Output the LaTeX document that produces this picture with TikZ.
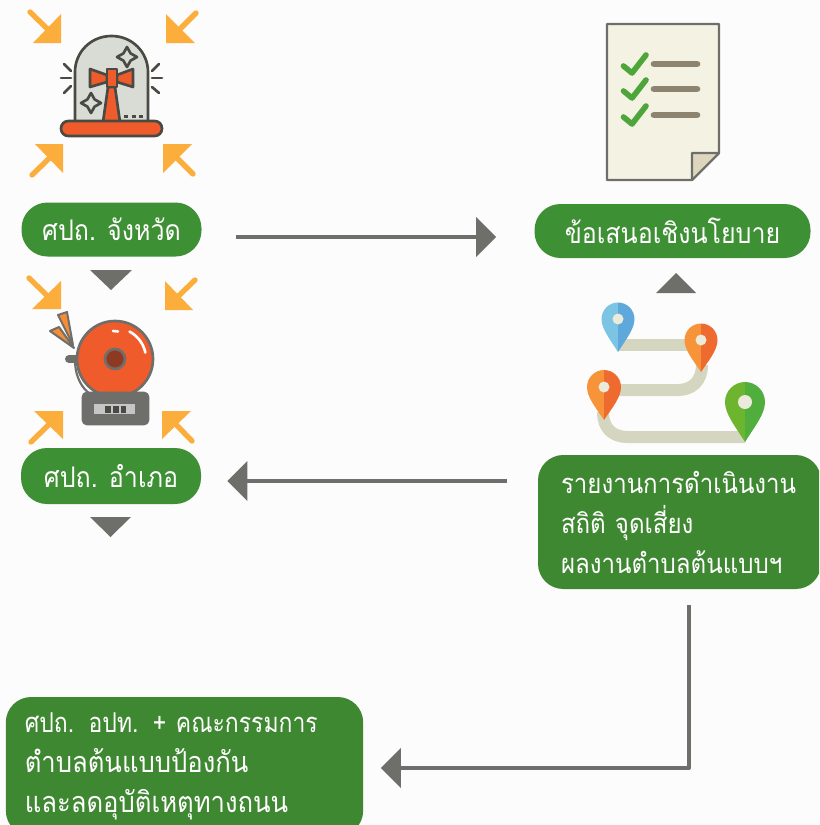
\documentclass[tikz,border=0pt]{standalone}
\usepackage{fontspec}
\usetikzlibrary{arrows.meta,calc}
\newfontfamily\thaifont[Script=Thai,FakeStretch=0.88]{Loma}
\newfontfamily\thaitight[Script=Thai,FakeStretch=0.89]{Loma}
\newfontfamily\thaicond[Script=Thai,FakeStretch=0.84]{Loma}
\definecolor{pagebg}{HTML}{FDFCFD}
\definecolor{boxgreen}{HTML}{3E9034}
\definecolor{boxdeep}{HTML}{3F8832}
\definecolor{conn}{HTML}{6E6F6B}
\definecolor{amber}{HTML}{FBAE3C}
\definecolor{ink}{HTML}{4A4A44}
\definecolor{redorange}{HTML}{EF5B2B}
\definecolor{dome}{HTML}{D8DCD5}
\definecolor{bellgray}{HTML}{6E6E6B}
\definecolor{paper}{HTML}{F3F2E3}
\definecolor{foldc}{HTML}{DDD6BD}
\definecolor{checkg}{HTML}{4EA63A}
\definecolor{barc}{HTML}{8D8470}
\definecolor{road}{HTML}{D5D6BF}
\definecolor{pinhole}{HTML}{ECEADB}
\definecolor{pinblueL}{HTML}{7CC4E4}
\definecolor{pinblueR}{HTML}{5FA8DC}
\definecolor{pinorangeL}{HTML}{F7943A}
\definecolor{pinorangeR}{HTML}{EF6A2F}
\definecolor{pingreenL}{HTML}{6DB52E}
\definecolor{pingreenR}{HTML}{50AE3C}
\definecolor{bellhub}{HTML}{8E3A22}
\tikzset{
  pill/.style={fill=boxgreen,text=white,rounded corners=19.5pt,inner sep=0pt,
    font=\thaifont\fontsize{21.3}{30}\selectfont},
  multi/.style={pill,fill=boxdeep,align=left,rounded corners=19pt,
    font=\thaifont\fontsize{20.5}{30}\selectfont},
  flow/.style={draw=conn,line width=3pt,-{Triangle[length=15pt,width=29pt]}},
  smalltri/.style={fill=conn},
  orangeline/.style={draw=amber,line width=4pt,line cap=round},
  icon/.style={draw=ink,line width=2pt,line join=round},
  bellicon/.style={draw=bellgray,line width=2pt,line join=round},
  ray/.style={draw=ink,line width=2pt,line cap=round},
  roadline/.style={draw=road,line width=9pt},
  checkmark/.style={draw=checkg,line width=4.2pt,line cap=round,line join=round},
  listbar/.style={draw=barc,line width=5pt,line cap=round}
}
% orange corner arrow: triangle a,b,c (b the right angle), tail end t
\newcommand{\cornerarrow}[4]{%
  \draw[orangeline] (#4) -- ($(#1)!.5!(#3)$);
  \fill[amber] (#1) -- (#2) -- (#3) -- cycle;}
% four-point star
\newcommand{\sparkle}[3]{%
  \draw[icon,fill=dome] (#1,#2-#3) -- (#1+.36*#3,#2-.36*#3) -- (#1+#3,#2) -- (#1+.36*#3,#2+.36*#3)
    -- (#1,#2+#3) -- (#1-.36*#3,#2+.36*#3) -- (#1-#3,#2) -- (#1-.36*#3,#2-.36*#3) -- cycle;}
% map pin: cx, cy, r, tip y, left colour, right colour, hole r
\newcommand{\mappin}[7]{%
  \fill[#5] (#1,#4) .. controls (#1-.5*#3,{#2+1.2*#3}) and (#1-#3,{#2+.6*#3}) .. (#1-#3,#2)
    .. controls (#1-#3,{#2-.55*#3}) and (#1-.55*#3,#2-#3) .. (#1,#2-#3) -- cycle;
  \fill[#6] (#1,#4) .. controls (#1+.5*#3,{#2+1.2*#3}) and (#1+#3,{#2+.6*#3}) .. (#1+#3,#2)
    .. controls (#1+#3,{#2-.55*#3}) and (#1+.55*#3,#2-#3) .. (#1,#2-#3) -- cycle;
  \fill[pinhole] (#1,#2) circle[radius=#7*.75pt];}
\begin{document}
\begin{tikzpicture}[x=0.75pt,y=-0.75pt]
\useasboundingbox (0,0) rectangle (819,825);
\clip (0,0) rectangle (819,825);
\fill[pagebg] (0,0) rectangle (819,825);

% ---------- siren icon
\cornerarrow{61,14}{61,43}{33,43}{30,12}
\cornerarrow{166,14}{166,43}{195,43}{196,13}
\cornerarrow{35,144}{63,144}{63,173}{32,175}
\cornerarrow{192,144}{163,144}{163,173}{193,174}
\draw[icon,fill=dome] (75,123) -- (75,72) .. controls (75,52) and (91,36) .. (111.5,36)
  .. controls (132,36) and (148,52) .. (148,72) -- (148,123);
\sparkle{127}{57}{10}
\sparkle{91}{103}{10}
\draw[icon,fill=redorange] (103,122) -- (108,87) -- (115,87) -- (120,122) -- cycle;
\draw[icon,fill=redorange] (90,69) -- (107,75) -- (107,82) -- (90,87) -- cycle;
\draw[icon,fill=redorange] (133,69) -- (117,75) -- (117,82) -- (133,87) -- cycle;
\draw[icon,fill=redorange] (107,69) rectangle (117,87);
\foreach \dotx in {126,134,141}{\fill[ink] (\dotx-2,114.5) rectangle (\dotx+2,117.5);}
\draw[icon,fill=redorange,rounded corners=5.5pt] (61,121) rectangle (162,136);
\draw[ray] (64,64) -- (71,71);
\draw[ray] (61,78) -- (71,78);
\draw[ray] (64,93) -- (71,86);
\draw[ray] (159,64) -- (152,71);
\draw[ray] (162,78) -- (152,78);
\draw[ray] (159,93) -- (152,87);

% ---------- bell icon
\cornerarrow{61,281}{61,309}{32,309}{29,278}
\cornerarrow{165,281}{165,310}{193,310}{195,280}
\cornerarrow{34,411}{63,411}{63,439}{31,442}
\cornerarrow{191,411}{162,411}{162,439}{192,441}
\draw[draw=bellgray,line width=1.6pt] (75,363) .. controls (76,378) and (82,388) .. (90,394);
\draw[draw=bellgray,line width=6pt,line cap=round] (69,359) -- (80,359);
\draw[bellicon,fill=redorange] (115,359) circle[radius=28.5pt];
\draw[draw=white,line width=2pt,line cap=round] plot[domain=12:62,samples=16] ({115+31*cos(\x)},{359-31*sin(\x)});
\draw[draw=white,line width=2pt,line cap=round] (113,331) -- (118,331.5);
\draw[bellicon,fill=bellhub] (115,359) circle[radius=7.5pt];
\draw[bellicon,fill=bellgray,rounded corners=3pt] (83,393) rectangle (148,424);
\fill[gray!45] (94,404) rectangle (135,414);
\fill[ink] (105,405.5) rectangle (111,412.5);
\fill[ink] (113,405.5) rectangle (119,412.5);
\fill[ink] (121,405.5) rectangle (126,412.5);
\draw[draw=bellgray,line width=1.5pt,fill=amber!60!redorange,line join=round] (58,315) -- (67,312) -- (73,345) -- cycle;
\draw[draw=bellgray,line width=1.5pt,fill=amber!60!redorange,line join=round] (50,331) -- (59,327) -- (74,348) -- cycle;

% ---------- document icon
\draw[draw=bellgray,line width=1.6pt,fill=paper,line join=round] (607,24) -- (719,24) -- (719,153) -- (692,180) -- (607,180) -- cycle;
\draw[draw=bellgray,line width=1.6pt,fill=foldc,line join=round] (719,153) -- (692,153) -- (692,180) -- cycle;
\foreach \rowy in {64,89,115}{
  \draw[checkmark] (623.5,\rowy+2) -- (632,\rowy+9) -- (646,\rowy-9);
  \draw[listbar] (654,\rowy) -- (697,\rowy);
}

% ---------- route icon
\draw[roadline] (618,345) -- (701,345);
\draw[roadline] (702,365) .. controls (702,381) and (692,390) .. (678,390) -- (604,390);
\draw[roadline] (603,412) .. controls (603,428) and (612,437) .. (628,437) -- (745,437);
\mappin{618}{319}{16.5}{352}{pinblueL}{pinblueR}{5.5}
\mappin{701}{340}{16.5}{372}{pinorangeL}{pinorangeR}{5.5}
\mappin{604}{387}{17}{420}{pinorangeL}{pinorangeR}{5.5}
\mappin{745}{402}{20}{442}{pingreenL}{pingreenR}{7}

% ---------- text boxes
\node[pill,minimum width=135pt,minimum height=40.5pt] (province) at (111.5,229.5) {ศปถ. จังหวัด};
\node[pill,minimum width=207pt,minimum height=40.5pt] (policy) at (672.5,231) {ข้อเสนอเชิงนโยบาย};
\node[pill,minimum width=135pt,minimum height=42pt] (district) at (111,476) {ศปถ. อำเภอ};
\node[multi,text width=177.75pt,minimum height=100.5pt,inner xsep=17.25pt] (report) at (679.5,522)
  {รายงานการดำเนินงาน\\สถิติ จุดเสี่ยง\\ผลงานตำบลต้นแบบฯ};
\node[multi,font=\thaitight\fontsize{21.6}{30}\selectfont,text width=239.5pt,minimum height=104.25pt,inner xsep=14.25pt] (local) at (184.5,766.5)
  {\mbox{\thaicond\fontsize{20.5}{30}\selectfont ศปถ. อปท. + คณะกรรมการ}\\ตำบลต้นแบบป้องกัน\\และลดอุบัติเหตุทางถนน};

% ---------- connectors
\coordinate (toprow) at (400,237);
\coordinate (lowrow) at (500,481);
\coordinate (bend) at (689,768);
\draw[flow,shorten <=25.5pt,shorten >=28.5pt] (province.east |- toprow) -- (policy.west |- toprow);
\draw[flow,shorten <=23pt,shorten >=19.5pt] (report.west |- lowrow) -- (district.east |- lowrow);
\draw[flow,shorten <=12pt,shorten >=13pt,line join=round] (report.south -| bend) -- (bend) -- (local.east |- bend);

% ---------- small pointers
\fill[smalltri] (90,270) -- (132,270) -- (111,290) -- cycle;
\fill[smalltri] (90,517) -- (131,517) -- (110.5,537) -- cycle;
\fill[smalltri] (656,293) -- (696,293) -- (676,273) -- cycle;
\end{tikzpicture}
\end{document}
